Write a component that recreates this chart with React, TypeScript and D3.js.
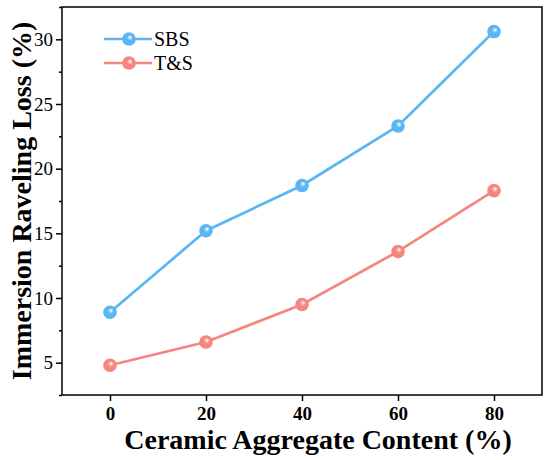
import { useEffect, useRef } from "react";
import { axisBottom, axisLeft, line, scaleLinear, select } from "d3";

const contents = [0, 20, 40, 60, 80];
const sbsLoss = [8.9, 15.2, 18.7, 23.3, 30.6];
const tsLoss = [4.8, 6.6, 9.5, 13.6, 18.3];
const seriesNames = ["SBS", "T&S"];
const xTicks = [0, 20, 40, 60, 80];
const yTicks = [5, 10, 15, 20, 25, 30];
const yMinorTicks = [2.5, 7.5, 12.5, 17.5, 22.5, 27.5, 32.5];

const W = 550;
const H = 460;
const left = 62;
const top = 7;
const right = 542;
const bottom = 395;
const colors = ["#5ab6f2", "#f7857f"];
const font = "Liberation Serif, Times New Roman, Times, serif";

function Axes({ x, y }: { x: any; y: any }) {
  const bRef = useRef<SVGGElement>(null);
  const lRef = useRef<SVGGElement>(null);
  const lmRef = useRef<SVGGElement>(null);

  useEffect(() => {
    if (bRef.current) {
      const g = select(bRef.current);
      g.call(axisBottom(x).tickValues(xTicks).tickSize(6).tickPadding(6).tickSizeOuter(0));
      g.select(".domain").remove();
      g.selectAll("line").attr("stroke", "#000").attr("stroke-width", 1.5);
      g.selectAll("text")
        .attr("font-family", font)
        .attr("font-size", 19)
        .attr("font-weight", "bold")
        .attr("fill", "#000");
    }
    if (lRef.current) {
      const g = select(lRef.current);
      g.call(axisLeft(y).tickValues(yTicks).tickSize(6).tickPadding(3).tickSizeOuter(0));
      g.select(".domain").remove();
      g.selectAll("line").attr("stroke", "#000").attr("stroke-width", 1.5);
      g.selectAll("text")
        .attr("font-family", font)
        .attr("font-size", 19)
        .attr("fill", "#000");
    }
    if (lmRef.current) {
      const g = select(lmRef.current);
      g.call(axisLeft(y).tickValues(yMinorTicks).tickSize(3).tickFormat(() => "").tickSizeOuter(0));
      g.select(".domain").remove();
      g.selectAll("line").attr("stroke", "#000").attr("stroke-width", 1.5);
    }
  }, [x, y]);

  return (
    <>
      <g ref={bRef} transform={`translate(0,${bottom})`} />
      <g ref={lRef} transform={`translate(${left},0)`} />
      <g ref={lmRef} transform={`translate(${left},0)`} />
    </>
  );
}

export default function App() {
  const x = scaleLinear().domain([-10, 90]).range([left, right]);
  const y = scaleLinear().domain([2.5, 32.5]).range([bottom, top]);
  const series = [sbsLoss, tsLoss];
  const path = line<number>()
    .x((_, i) => x(contents[i]))
    .y((d) => y(d));

  return (
    <svg
      width={W}
      height={H}
      style={{ position: "absolute", left: 0, top: 0, background: "#fff" }}
    >
      <defs>
        {colors.map((c, i) => (
          <radialGradient key={c} id={`ball${i}`} cx="0.5" cy="0.5" r="0.55" fx="0.6" fy="0.35">
            <stop offset="0" stopColor="#fff" />
            <stop offset="0.4" stopColor={c} />
            <stop offset="1" stopColor={c} />
          </radialGradient>
        ))}
      </defs>
      {series.map((s, i) => (
        <g key={seriesNames[i]}>
          <path d={path(s) ?? ""} fill="none" stroke={colors[i]} strokeWidth={2.7} />
          {s.map((v, j) => (
            <circle key={j} cx={x(contents[j])} cy={y(v)} r={6.8} fill={`url(#ball${i})`} />
          ))}
        </g>
      ))}
      <rect
        x={left}
        y={top}
        width={right - left}
        height={bottom - top}
        fill="none"
        stroke="#000"
        strokeWidth={1.5}
      />
      <Axes x={x} y={y} />
      {seriesNames.map((name, i) => (
        <g key={name} transform={`translate(0,${39 + i * 24})`}>
          <line x1={104} x2={152} y1={0} y2={0} stroke={colors[i]} strokeWidth={2.7} />
          <circle cx={129} cy={0} r={6.8} fill={`url(#ball${i})`} />
          <text x={154} y={7} fontFamily={font} fontSize={20} fill="#000">
            {name}
          </text>
        </g>
      ))}
      <text
        x={318}
        y={449}
        textAnchor="middle"
        fontFamily={font}
        fontSize={28}
        fontWeight="bold"
      >
        Ceramic Aggregate Content (%)
      </text>
      <text
        transform={`translate(31,201) rotate(-90)`}
        textAnchor="middle"
        fontFamily={font}
        fontSize={28}
        fontWeight="bold"
      >
        Immersion Raveling Loss (%)
      </text>
    </svg>
  );
}
